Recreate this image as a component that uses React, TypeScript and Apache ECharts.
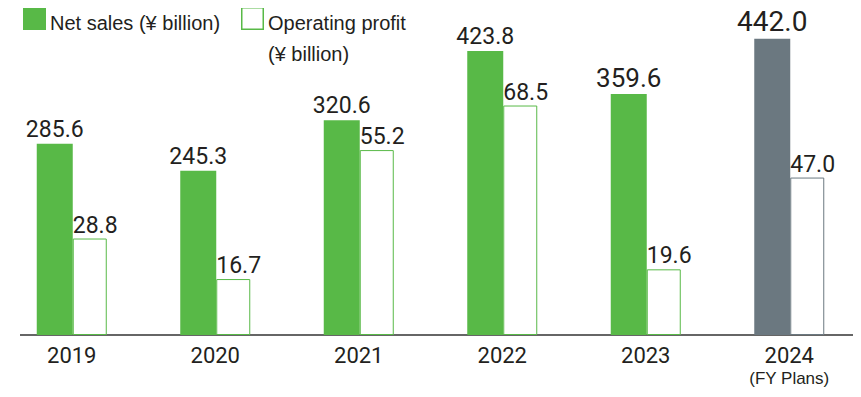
import React, { useEffect, useRef } from "react";
import * as echarts from "echarts";

const categories = ["2019", "2020", "2021", "2022", "2023", "2024"];
const planNote = "(FY Plans)";
const netSales = [285.6, 245.3, 320.6, 423.8, 359.6, 442.0];
const operatingProfit = [28.8, 16.7, 55.2, 68.5, 19.6, 47.0];
const netSalesName = "Net sales (¥ billion)";
const profitName = "Operating profit\n(¥ billion)";

const GREEN = "#58b947";
const GRAY = "#6b7880";
const TEXT = "#231f20";
const NUM_FONT = "Roboto";
const LBL_FONT = "Liberation Sans";

export default function App() {
  const ref = useRef<HTMLDivElement>(null);
  useEffect(() => {
    if (!ref.current) return;
    const chart = echarts.init(ref.current, null, { renderer: "svg" });
    const last = categories.length - 1;
    const netSizes = [23, 23, 23, 23, 26, 28];
    const legendText = { fontFamily: LBL_FONT, fontSize: 20, fill: TEXT, lineHeight: 31, verticalAlign: "top", align: "left" };
    chart.setOption({
      animation: false,
      grid: { left: -1, right: -1, top: 0, bottom: 62, containLabel: false },
      xAxis: {
        type: "category",
        data: categories,
        axisLine: { show: false },
        axisTick: { show: false },
        axisLabel: {
          interval: 0,
          margin: 8,
          fontFamily: NUM_FONT,
          fontSize: 22,
          color: TEXT,
          lineHeight: 24,
          formatter: (v: string) => (v === categories[last] ? `${v}\n{s|${planNote}}` : v),
          rich: { s: { fontFamily: LBL_FONT, fontSize: 17, lineHeight: 22, color: TEXT } },
        },
      },
      yAxis: [
        { type: "value", min: 0, max: 500, show: false, splitLine: { show: false } },
        { type: "value", min: 0, max: 100, show: false, splitLine: { show: false } },
      ],
      graphic: [
        {
          type: "line",
          shape: { x1: 20, y1: 335, x2: 861, y2: 335 },
          style: { stroke: "#333333", lineWidth: 1.5 },
          silent: true,
        },
        { type: "rect", shape: { x: 23, y: 7, width: 23, height: 23 }, style: { fill: GREEN }, silent: true },
        { type: "text", x: 50, y: 7, style: { ...legendText, text: netSalesName }, silent: true },
        {
          type: "rect",
          x: 241,
          y: 7,
          shape: { x: 0.75, y: 0.75, width: 21.5, height: 21.5 },
          style: { fill: "#ffffff", stroke: GREEN, lineWidth: 1.5 },
          silent: true,
        },
        { type: "text", x: 268, y: 7, style: { ...legendText, text: profitName }, silent: true },
      ],
      series: [
        {
          name: netSalesName,
          type: "bar",
          yAxisIndex: 0,
          barWidth: 36,
          barGap: "0%",
          itemStyle: { color: GREEN },
          label: {
            show: true,
            position: "top",
            distance: 3,
            fontFamily: NUM_FONT,
            fontSize: 23,
            color: TEXT,
            formatter: (p: any) => p.value.toFixed(1),
          },
          data: netSales.map((v, i) => ({
            value: v,
            itemStyle: i === last ? { color: GRAY } : undefined,
            label: { fontSize: netSizes[i] },
          })),
        },
        {
          name: profitName,
          type: "bar",
          yAxisIndex: 1,
          barWidth: 34,
          barGap: "0%",
          itemStyle: { color: "#ffffff", borderColor: GREEN, borderWidth: 1 },
          label: {
            show: true,
            position: [0, -2],
            align: "left",
            verticalAlign: "bottom",
            fontFamily: NUM_FONT,
            fontSize: 23,
            color: TEXT,
            formatter: (p: any) => p.value.toFixed(1),
          },
          data: operatingProfit.map((v, i) => ({
            value: v,
            itemStyle: i === last ? { color: "#ffffff", borderColor: GRAY, borderWidth: 1 } : undefined,
          })),
        },
      ],
    });
    return () => chart.dispose();
  }, []);
  return <div ref={ref} style={{ width: 861, height: 397, margin: -8 }} />;
}
